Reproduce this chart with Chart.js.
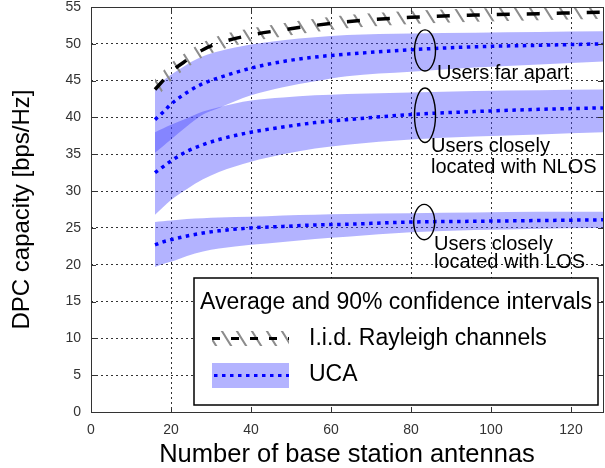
<!DOCTYPE html>
<html>
<head>
<meta charset="utf-8">
<script src="https://cdn.jsdelivr.net/npm/chart.js@4.4.0/dist/chart.umd.min.js"></script>
<style>
  html, body { margin: 0; padding: 0; background: #fff; }
  #wrap { width: 605px; height: 468px; }
</style>
</head>
<body>
<div id="wrap"><canvas id="dpcChart" width="605" height="468"></canvas></div>
<script>
// ---- Data ----
const antennas = [16, 18, 20, 24, 28, 32, 40, 48, 56, 64, 80, 96, 112, 128];
const xTicks = [0, 20, 40, 60, 80, 100, 120];
const yTicks = [0, 5, 10, 15, 20, 25, 30, 35, 40, 45, 50, 55];

// i.i.d. Rayleigh channels
const rayleighMean  = [43.8, 45.0, 46.2, 47.8, 49.2, 50.1, 51.2, 51.9, 52.5, 53.0, 53.6, 53.9, 54.1, 54.3];
const rayleighUpper = [45.2, 46.3, 47.4, 48.9, 50.2, 51.1, 52.1, 52.8, 53.4, 53.9, 54.5, 54.8, 55.0, 55.2];
const rayleighLower = [42.4, 43.7, 45.0, 46.7, 48.2, 49.1, 50.3, 51.0, 51.6, 52.1, 52.7, 53.0, 53.2, 53.4];

// UCA, users far apart
const farMean  = [39.7, 40.7, 41.8, 43.4, 44.6, 45.4, 46.7, 47.6, 48.2, 48.6, 49.2, 49.6, 49.8, 50.0];
const farUpper = [44.0, 45.0, 45.8, 47.2, 48.3, 49.0, 49.9, 50.5, 50.9, 51.2, 51.4, 51.5, 51.6, 51.7];
const farLower = [35.2, 36.1, 37.0, 38.8, 40.4, 41.3, 43.0, 44.1, 44.9, 45.6, 46.2, 46.8, 47.2, 47.6];

// UCA, users closely located with NLOS
const nlosMean  = [32.5, 33.3, 34.1, 35.4, 36.3, 37.0, 38.0, 38.7, 39.3, 39.7, 40.4, 40.8, 41.1, 41.3];
const nlosUpper = [38.0, 38.5, 39.0, 39.9, 40.8, 41.4, 42.3, 42.7, 43.0, 43.2, 43.4, 43.6, 43.7, 43.8];
const nlosLower = [26.8, 27.8, 28.8, 30.3, 31.6, 32.6, 34.0, 35.0, 35.8, 36.3, 37.0, 37.4, 37.7, 38.0];

// UCA, users closely located with LOS
const losMean  = [22.7, 23.1, 23.4, 23.9, 24.3, 24.6, 25.0, 25.2, 25.4, 25.5, 25.8, 25.9, 26.0, 26.1];
const losUpper = [25.8, 25.9, 26.0, 26.2, 26.3, 26.4, 26.5, 26.7, 26.8, 26.9, 27.0, 27.1, 27.2, 27.2];
const losLower = [19.7, 20.1, 20.4, 21.2, 21.8, 22.2, 22.7, 23.1, 23.5, 23.8, 24.4, 24.7, 24.9, 25.0];

// annotation texts (data coords) and ellipses around the curves
const noteLabels = [
  { text: 'Users far apart',   x: 86.5,  y: 45.2 },
  { text: 'Users closely',     x: 85.0,  y: 35.3 },
  { text: 'located with NLOS', x: 85.0,  y: 32.4 },
  { text: 'Users closely',     x: 85.75, y: 22.0 },
  { text: 'located with LOS',  x: 85.75, y: 19.5 }
];
const ellipses = [
  { x: 83.5, y: 49.1, w: 5.25, h: 5.6 },
  { x: 83.5, y: 40.3, w: 5.25, h: 7.4 },
  { x: 83.3, y: 25.8, w: 5.25, h: 4.8 }
];

const FONT = "'Liberation Sans', Arial, Helvetica, sans-serif";
const BAND = 'rgba(64,64,255,0.4)';
const DOT_BLUE = '#0000ff';

Chart.defaults.font.family = FONT;

const pts = arr => antennas.map((x, i) => ({ x: x, y: arr[i] }));

// gray diagonal hatch used for the Rayleigh confidence band
function makeHatch() {
  const c = document.createElement('canvas');
  c.width = 15; c.height = 24;
  const g = c.getContext('2d');
  g.strokeStyle = '#8c8c8c';
  g.lineWidth = 2;
  g.beginPath();
  [-15, 0, 15].forEach(x0 => {
    g.moveTo(x0 - 15, -24);
    g.lineTo(x0 + 30, 48);
  });
  g.stroke();
  return g.createPattern(c, 'repeat');
}
const hatch = makeHatch();

const band = (data, fill, color) => ({
  data: pts(data),
  fill: fill,
  backgroundColor: color,
  borderWidth: 0,
  pointRadius: 0,
  cubicInterpolationMode: 'monotone',
  order: 2
});

const meanLine = (data, color, width, dash) => ({
  data: pts(data),
  fill: false,
  borderColor: color,
  borderWidth: width,
  borderDash: dash,
  borderCapStyle: 'butt',
  pointRadius: 0,
  cubicInterpolationMode: 'monotone',
  order: 0
});

// ---- frame, inward ticks, notes and legend box ----
const decorations = {
  id: 'decorations',
  afterDraw(chart) {
    const { ctx, chartArea: a } = chart;
    const xs = chart.scales.x, ys = chart.scales.y;
    ctx.save();

    // inward tick marks on all four sides
    ctx.strokeStyle = '#333';
    ctx.lineWidth = 1;
    ctx.beginPath();
    xTicks.forEach(v => {
      const px = Math.round(xs.getPixelForValue(v)) + 0.5;
      ctx.moveTo(px, a.bottom); ctx.lineTo(px, a.bottom - 5);
      ctx.moveTo(px, a.top); ctx.lineTo(px, a.top + 5);
    });
    yTicks.forEach(v => {
      const py = Math.round(ys.getPixelForValue(v)) + 0.5;
      ctx.moveTo(a.left, py); ctx.lineTo(a.left + 5, py);
      ctx.moveTo(a.right, py); ctx.lineTo(a.right - 5, py);
    });
    ctx.stroke();
    ctx.strokeRect(Math.round(a.left) + 0.5, Math.round(a.top) + 0.5,
                   Math.round(a.right - a.left), Math.round(a.bottom - a.top));

    // ellipses round the curves
    ctx.strokeStyle = '#000';
    ctx.lineWidth = 1.4;
    ellipses.forEach(e => {
      const cx = xs.getPixelForValue(e.x), cy = ys.getPixelForValue(e.y);
      const rx = (xs.getPixelForValue(e.x + e.w / 2) - cx);
      const ry = (cy - ys.getPixelForValue(e.y + e.h / 2));
      ctx.beginPath();
      ctx.ellipse(cx, cy, rx, ry, 0, 0, Math.PI * 2);
      ctx.stroke();
    });

    // curve labels
    ctx.fillStyle = '#000';
    ctx.font = '20px ' + FONT;
    ctx.textBaseline = 'alphabetic';
    ctx.textAlign = 'left';
    noteLabels.forEach(n => {
      ctx.fillText(n.text, xs.getPixelForValue(n.x), ys.getPixelForValue(n.y));
    });

    // legend box
    const L = { x: 194, y: 278, w: 404, h: 127 };
    ctx.fillStyle = '#fff';
    ctx.fillRect(L.x, L.y, L.w, L.h);
    ctx.strokeStyle = '#000';
    ctx.lineWidth = 1.5;
    ctx.strokeRect(L.x, L.y, L.w, L.h);

    ctx.fillStyle = '#000';
    ctx.font = '23px ' + FONT;
    ctx.fillText('Average and 90% confidence intervals', 200, 309);
    ctx.fillText('I.i.d. Rayleigh channels', 309, 345);
    ctx.fillText('UCA', 309, 381);

    // Rayleigh sample: hatch + black dashes
    ctx.fillStyle = hatch;
    ctx.fillRect(212, 331, 77, 15);
    ctx.strokeStyle = '#000';
    ctx.lineWidth = 3;
    ctx.setLineDash([8, 11]);
    ctx.beginPath();
    ctx.moveTo(212, 338.5); ctx.lineTo(289, 338.5);
    ctx.stroke();

    // UCA sample: band + dotted line
    ctx.fillStyle = BAND;
    ctx.fillRect(212, 363, 77, 25);
    ctx.strokeStyle = DOT_BLUE;
    ctx.lineWidth = 3;
    ctx.setLineDash([3.5, 4.5]);
    ctx.beginPath();
    ctx.moveTo(214, 375.5); ctx.lineTo(289, 375.5);
    ctx.stroke();

    ctx.restore();
  }
};

const ctxDpc = document.getElementById('dpcChart').getContext('2d');

const dpcChart = new Chart(ctxDpc, {
  type: 'line',
  data: {
    datasets: [
      band(rayleighLower, false, 'transparent'),
      band(rayleighUpper, '-1', hatch),
      band(farLower, false, 'transparent'),
      band(farUpper, '-1', BAND),
      band(nlosLower, false, 'transparent'),
      band(nlosUpper, '-1', BAND),
      band(losLower, false, 'transparent'),
      band(losUpper, '-1', BAND),
      meanLine(farMean, DOT_BLUE, 3.5, [3.5, 4.5]),
      meanLine(nlosMean, DOT_BLUE, 3.5, [3.5, 4.5]),
      meanLine(losMean, DOT_BLUE, 3.5, [3.5, 4.5]),
      meanLine(rayleighMean, '#000', 3.5, [13, 17])
    ]
  },
  options: {
    responsive: false,
    animation: false,
    events: [],
    layout: { padding: { top: 7, right: 2, left: 0, bottom: 0 } },
    plugins: {
      legend: { display: false },
      tooltip: { enabled: false }
    },
    scales: {
      x: {
        type: 'linear',
        min: 0,
        max: 128,
        afterBuildTicks: axis => {
          axis.ticks = xTicks.map(v => ({ value: v }));
        },
        afterFit: axis => {
          axis.height = 56;
          axis.paddingLeft = 0;
          axis.paddingRight = 0;
        },
        ticks: {
          color: '#333',
          font: { size: 14 },
          padding: 10,
          maxRotation: 0
        },
        grid: { color: 'rgba(0,0,0,0.8)', lineWidth: 1, drawTicks: false },
        border: { display: false, dash: [2, 3] },
        title: {
          display: true,
          text: 'Number of base station antennas',
          color: '#000',
          font: { size: 25.5, lineHeight: 1 },
          padding: 0
        }
      },
      y: {
        min: 0,
        max: 55,
        afterBuildTicks: axis => {
          axis.ticks = yTicks.map(v => ({ value: v }));
        },
        afterFit: axis => {
          axis.width = 91;
          axis.paddingTop = 0;
          axis.paddingBottom = 0;
        },
        ticks: {
          color: '#333',
          font: { size: 14 },
          padding: 10
        },
        grid: { color: 'rgba(0,0,0,0.8)', lineWidth: 1, drawTicks: false },
        border: { display: false, dash: [2, 3] },
        title: {
          display: true,
          text: 'DPC capacity [bps/Hz]',
          color: '#000',
          font: { size: 24 },
          padding: 8
        }
      }
    }
  },
  plugins: [decorations]
});
</script>
</body>
</html>
